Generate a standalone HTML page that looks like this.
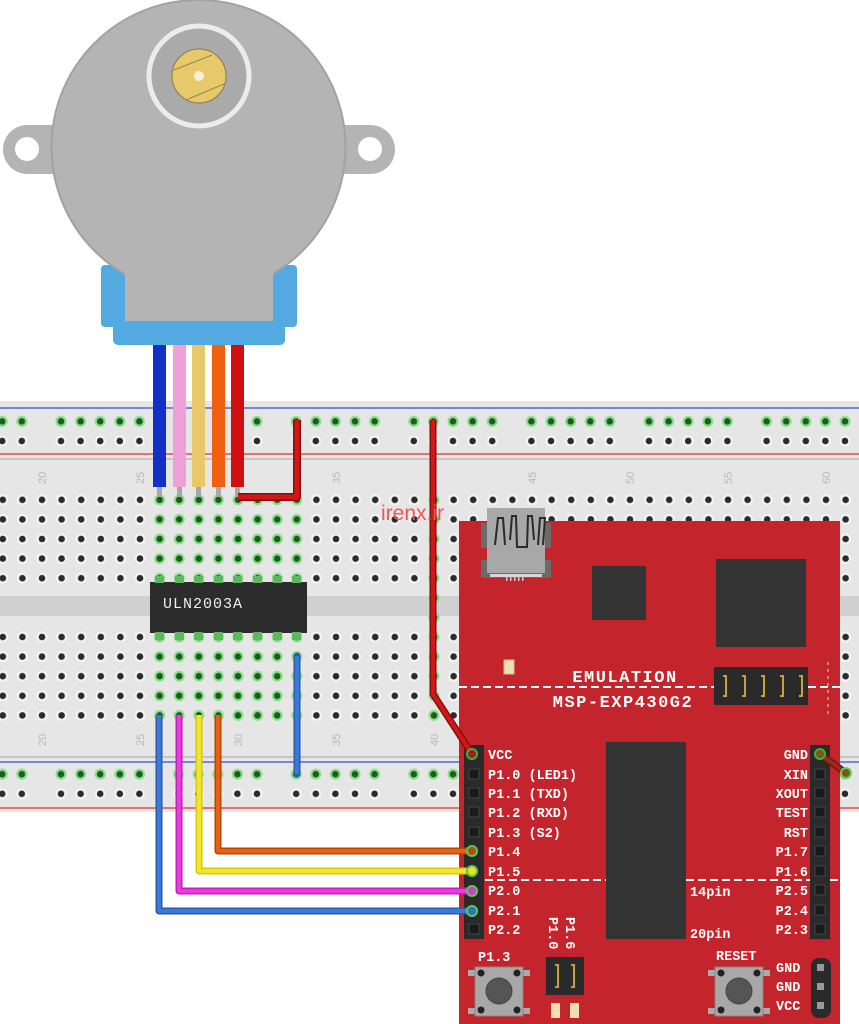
<!DOCTYPE html>
<html><head><meta charset="utf-8"><style>
html,body{margin:0;padding:0;background:#fff;}
svg{display:block;}
.t{font-family:"Liberation Mono",monospace;font-weight:bold;fill:#fff;font-size:13.5px;}
.n{font-family:"Liberation Sans",sans-serif;fill:#b8b8b8;font-size:11px;}
</style></head><body>
<svg width="859" height="1024" viewBox="0 0 859 1024" xmlns="http://www.w3.org/2000/svg">
<defs>
<pattern id="hb" patternUnits="userSpaceOnUse" x="130.2" y="0" width="19.6" height="19.6">
<circle cx="9.8" cy="9.8" r="5.5" fill="#f4f4f4"/><circle cx="9.8" cy="9.8" r="3.3" fill="#2b2b2b"/></pattern>
<pattern id="ra" patternUnits="userSpaceOnUse" x="51.2" y="0" width="117.6" height="19.6">
<g fill="#f4f4f4"><circle cx="9.8" cy="9.8" r="5.5"/><circle cx="29.4" cy="9.8" r="5.5"/><circle cx="49" cy="9.8" r="5.5"/><circle cx="68.6" cy="9.8" r="5.5"/><circle cx="88.2" cy="9.8" r="5.5"/></g>
<g fill="#2b2b2b"><circle cx="9.8" cy="9.8" r="3.3"/><circle cx="29.4" cy="9.8" r="3.3"/><circle cx="49" cy="9.8" r="3.3"/><circle cx="68.6" cy="9.8" r="3.3"/><circle cx="88.2" cy="9.8" r="3.3"/></g></pattern>
<pattern id="rg" patternUnits="userSpaceOnUse" x="51.2" y="0" width="117.6" height="19.6">
<g fill="#86e086"><circle cx="9.8" cy="9.8" r="5.5"/><circle cx="29.4" cy="9.8" r="5.5"/><circle cx="49" cy="9.8" r="5.5"/><circle cx="68.6" cy="9.8" r="5.5"/><circle cx="88.2" cy="9.8" r="5.5"/></g>
<g fill="#1f5a22"><circle cx="9.8" cy="9.8" r="3.3"/><circle cx="29.4" cy="9.8" r="3.3"/><circle cx="49" cy="9.8" r="3.3"/><circle cx="68.6" cy="9.8" r="3.3"/><circle cx="88.2" cy="9.8" r="3.3"/></g></pattern>
<pattern id="gg" patternUnits="userSpaceOnUse" x="130.2" y="0" width="19.6" height="19.6">
<circle cx="9.8" cy="9.8" r="5.5" fill="#86e086"/><circle cx="9.8" cy="9.8" r="3.3" fill="#1f5a22"/></pattern>
</defs>

<!-- breadboard -->
<rect x="0" y="401" width="859" height="411" fill="#e6e6e6"/>
<rect x="0" y="596" width="859" height="20" fill="#d0d0d0"/>
<line x1="0" y1="408" x2="859" y2="408" stroke="#3050d0" stroke-width="1.2"/>
<line x1="0" y1="454" x2="859" y2="454" stroke="#e03030" stroke-width="1.2"/>
<line x1="0" y1="459" x2="859" y2="459" stroke="#c4c4c4" stroke-width="2"/>
<line x1="0" y1="757" x2="859" y2="757" stroke="#c4c4c4" stroke-width="2"/>
<line x1="0" y1="762" x2="859" y2="762" stroke="#3050d0" stroke-width="1.2"/>
<line x1="0" y1="808" x2="859" y2="808" stroke="#e03030" stroke-width="1.2"/>
<rect x="0" y="410.2" width="859" height="19.6" fill="url(#rg)"/>
<rect x="0" y="429.8" width="859" height="19.6" fill="url(#ra)"/>
<rect x="0" y="764.2" width="859" height="19.6" fill="url(#rg)"/>
<rect x="0" y="783.8" width="859" height="19.6" fill="url(#ra)"/>
<rect x="0" y="489.2" width="859" height="98" fill="url(#hb)"/>
<rect x="0" y="626.2" width="859" height="98" fill="url(#hb)"/>
<rect x="149.8" y="489.2" width="156.8" height="98" fill="url(#gg)"/>
<rect x="149.8" y="626.2" width="156.8" height="98" fill="url(#gg)"/>
<rect x="423.8" y="489.2" width="19.6" height="235" fill="url(#gg)"/>
<g class="n">
<text transform="translate(46,484) rotate(-90)">20</text>
<text transform="translate(144,484) rotate(-90)">25</text>
<text transform="translate(340,484) rotate(-90)">35</text>
<text transform="translate(536,484) rotate(-90)">45</text>
<text transform="translate(634,484) rotate(-90)">50</text>
<text transform="translate(732,484) rotate(-90)">55</text>
<text transform="translate(830,484) rotate(-90)">60</text>
<text transform="translate(46,746) rotate(-90)">20</text>
<text transform="translate(144,746) rotate(-90)">25</text>
<text transform="translate(242,746) rotate(-90)">30</text>
<text transform="translate(340,746) rotate(-90)">35</text>
<text transform="translate(438,746) rotate(-90)">40</text>
</g>

<!-- ULN2003A -->
<rect x="150" y="582" width="157" height="51" fill="#2c2c2c"/>
<g fill="#5fb85f">
<rect x="155" y="576" width="9" height="7"/><rect x="175" y="576" width="9" height="7"/><rect x="194" y="576" width="9" height="7"/><rect x="214" y="576" width="9" height="7"/><rect x="233" y="576" width="9" height="7"/><rect x="253" y="576" width="9" height="7"/><rect x="273" y="576" width="9" height="7"/><rect x="292" y="576" width="9" height="7"/>
<rect x="155" y="632" width="9" height="8"/><rect x="175" y="632" width="9" height="8"/><rect x="194" y="632" width="9" height="8"/><rect x="214" y="632" width="9" height="8"/><rect x="233" y="632" width="9" height="8"/><rect x="253" y="632" width="9" height="8"/><rect x="273" y="632" width="9" height="8"/><rect x="292" y="632" width="9" height="8"/>
</g>
<text x="163" y="608" style="font-family:'Liberation Mono',monospace;font-size:15px;fill:#eee;letter-spacing:1px">ULN2003A</text>

<!-- motor -->
<rect x="101" y="265" width="196" height="62" rx="4" fill="#52aae0"/>
<rect x="113" y="272" width="172" height="73" rx="5" fill="#52aae0"/>
<rect x="3" y="125" width="392" height="49" rx="24.5" fill="#b4b4b4"/>
<circle cx="27" cy="149" r="12" fill="#fff"/><circle cx="370" cy="149" r="12" fill="#fff"/>
<circle cx="198.5" cy="147" r="147" fill="#b4b4b4" stroke="#a2a2a2" stroke-width="2"/>
<rect x="125" y="255" width="148" height="66" fill="#b4b4b4"/>
<circle cx="199" cy="76" r="50" fill="#aaaaaa" stroke="#ececec" stroke-width="5"/>
<circle cx="199" cy="76" r="27" fill="#e7c96a" stroke="#8a7a50" stroke-width="1"/>
<line x1="174" y1="70" x2="212" y2="55" stroke="#9a8550" stroke-width="1"/>
<line x1="186" y1="100" x2="224" y2="84" stroke="#9a8550" stroke-width="1"/>
<circle cx="199" cy="76" r="5" fill="#f6f0d8"/>
<rect x="153" y="345" width="13" height="142" fill="#1030c8"/>
<rect x="173" y="345" width="13" height="142" fill="#f0a0d8"/>
<rect x="192" y="345" width="13" height="142" fill="#e8c868"/>
<rect x="212" y="345" width="13" height="142" fill="#f06010"/>
<rect x="231" y="345" width="13" height="142" fill="#d01010"/>
<g fill="#a8a8a8"><rect x="157" y="487" width="5" height="10"/><rect x="177" y="487" width="5" height="10"/><rect x="196" y="487" width="5" height="10"/><rect x="216" y="487" width="5" height="10"/><rect x="235" y="487" width="5" height="10"/></g>

<polyline points="238,497 297,497 297,420" fill="none" stroke="#8a0c0c" stroke-width="8" stroke-linejoin="round"/>
<polyline points="238,497 297,497 297,420" fill="none" stroke="#d01818" stroke-width="5" stroke-linejoin="round"/>
<line x1="297" y1="656" x2="297" y2="774" stroke="#2a5aa8" stroke-width="7" stroke-linecap="round"/>
<line x1="297" y1="656" x2="297" y2="774" stroke="#3a7ad8" stroke-width="4"/>

<!-- MSP board -->
<rect x="459" y="521" width="381" height="503" fill="#c4242b"/>
<rect x="481" y="523" width="70" height="25" fill="#6a6a6a"/>
<rect x="481" y="560" width="70" height="18" fill="#6a6a6a"/>
<rect x="487" y="508" width="58" height="65" fill="#a8a8a8"/>
<path d="M495 545 L498 518 L503 518 L505 545 M510 540 L512 516 L516 516 L517 547 L527 547 L528 516 L532 516 L534 540 M538 545 L540 518 L545 518 L543 545" fill="none" stroke="#2a2a2a" stroke-width="2"/>
<rect x="490" y="574" width="52" height="3" fill="#d8d8d8"/>
<g fill="#ccc"><rect x="506" y="576" width="1.5" height="5"/><rect x="510" y="576" width="1.5" height="5"/><rect x="514" y="576" width="1.5" height="5"/><rect x="518" y="576" width="1.5" height="5"/><rect x="522" y="576" width="1.5" height="5"/></g>
<rect x="592" y="566" width="54" height="54" fill="#333"/>
<rect x="716" y="559" width="90" height="88" fill="#333"/>
<rect x="504" y="660" width="10" height="14" fill="#f0e0b0" stroke="#d0c090" stroke-width="1"/>
<text x="625" y="682" text-anchor="middle" class="t" style="font-size:17px;letter-spacing:1.5px">EMULATION</text>
<line x1="459" y1="687" x2="716" y2="687" stroke="#fff" stroke-width="2" stroke-dasharray="8,4"/>
<line x1="808" y1="687" x2="840" y2="687" stroke="#fff" stroke-width="2" stroke-dasharray="8,4"/>
<text x="623" y="707" text-anchor="middle" class="t" style="font-size:17px;letter-spacing:1.5px">MSP-EXP430G2</text>
<rect x="714" y="667" width="94" height="38" fill="#2a2a2a"/>
<g fill="none" stroke="#c8a040" stroke-width="2">
<path d="M723 676 h3 v20 h-3"/><path d="M742 676 h3 v20 h-3"/><path d="M761 676 h3 v20 h-3"/><path d="M780 676 h3 v20 h-3"/><path d="M799 676 h3 v20 h-3"/>
</g>
<line x1="828" y1="662" x2="828" y2="714" stroke="#d08080" stroke-width="2" stroke-dasharray="3,4"/>
<rect x="606" y="742" width="80" height="197" fill="#333"/>
<line x1="485" y1="880" x2="606" y2="880" stroke="#fff" stroke-width="2" stroke-dasharray="8,4"/>
<line x1="686" y1="880" x2="840" y2="880" stroke="#fff" stroke-width="2" stroke-dasharray="8,4"/>
<text x="690" y="896" class="t">14pin</text>
<text x="690" y="938" class="t">20pin</text>
<rect x="464" y="745" width="20" height="194" fill="#2a2a2a"/>
<rect x="810" y="745" width="20" height="194" fill="#2a2a2a"/>
<g fill="#1a1a1a" stroke="#444" stroke-width="1">
<rect x="469" y="769" width="10" height="10"/><rect x="469" y="788" width="10" height="10"/><rect x="469" y="807" width="10" height="10"/><rect x="469" y="827" width="10" height="10"/><rect x="469" y="924" width="10" height="10"/>
<rect x="815" y="769" width="10" height="10"/><rect x="815" y="788" width="10" height="10"/><rect x="815" y="807" width="10" height="10"/><rect x="815" y="827" width="10" height="10"/><rect x="815" y="846" width="10" height="10"/><rect x="815" y="866" width="10" height="10"/><rect x="815" y="885" width="10" height="10"/><rect x="815" y="905" width="10" height="10"/><rect x="815" y="924" width="10" height="10"/>
</g>
<g class="t">
<text x="488" y="759">VCC</text>
<text x="488" y="779">P1.0 (LED1)</text>
<text x="488" y="798">P1.1 (TXD)</text>
<text x="488" y="817">P1.2 (RXD)</text>
<text x="488" y="837">P1.3 (S2)</text>
<text x="488" y="856">P1.4</text>
<text x="488" y="876">P1.5</text>
<text x="488" y="895">P2.0</text>
<text x="488" y="915">P2.1</text>
<text x="488" y="934">P2.2</text>
</g>
<g class="t" text-anchor="end">
<text x="808" y="759">GND</text>
<text x="808" y="779">XIN</text>
<text x="808" y="798">XOUT</text>
<text x="808" y="817">TEST</text>
<text x="808" y="837">RST</text>
<text x="808" y="856">P1.7</text>
<text x="808" y="876">P1.6</text>
<text x="808" y="895">P2.5</text>
<text x="808" y="915">P2.4</text>
<text x="808" y="934">P2.3</text>
</g>
<text x="478" y="961" class="t">P1.3</text>
<text x="716" y="960" class="t">RESET</text>
<text transform="translate(566,917) rotate(90)" class="t">P1.6</text>
<text transform="translate(549,917) rotate(90)" class="t">P1.0</text>
<rect x="546" y="957" width="38" height="38" fill="#2a2a2a"/>
<path d="M555 965 h3 v22 h-3 M571 965 h3 v22 h-3" fill="none" stroke="#c8a040" stroke-width="2"/>
<rect x="551" y="1003" width="9" height="15" fill="#f0e0b0"/>
<rect x="570" y="1003" width="9" height="15" fill="#f0e0b0"/>
<g>
<rect x="468" y="970" width="62" height="6" fill="#aaa"/><rect x="468" y="1008" width="62" height="6" fill="#aaa"/>
<rect x="475" y="967" width="48" height="49" fill="#a8a8a8" stroke="#888"/>
<circle cx="499" cy="991" r="13" fill="#555" stroke="#444"/>
<circle cx="481" cy="973" r="3.5" fill="#222"/><circle cx="517" cy="973" r="3.5" fill="#222"/><circle cx="481" cy="1010" r="3.5" fill="#222"/><circle cx="517" cy="1010" r="3.5" fill="#222"/>
</g>
<g transform="translate(240,0)">
<rect x="468" y="970" width="62" height="6" fill="#aaa"/><rect x="468" y="1008" width="62" height="6" fill="#aaa"/>
<rect x="475" y="967" width="48" height="49" fill="#a8a8a8" stroke="#888"/>
<circle cx="499" cy="991" r="13" fill="#555" stroke="#444"/>
<circle cx="481" cy="973" r="3.5" fill="#222"/><circle cx="517" cy="973" r="3.5" fill="#222"/><circle cx="481" cy="1010" r="3.5" fill="#222"/><circle cx="517" cy="1010" r="3.5" fill="#222"/>
</g>
<g class="t"><text x="776" y="972">GND</text><text x="776" y="991">GND</text><text x="776" y="1010">VCC</text></g>
<rect x="811" y="958" width="20" height="60" rx="8" fill="#2a2a2a"/>
<g fill="#999"><rect x="817" y="964" width="7" height="7"/><rect x="817" y="983" width="7" height="7"/><rect x="817" y="1002" width="7" height="7"/></g>

<polyline points="433,420 433,694 472,754" fill="none" stroke="#8a0c0c" stroke-width="7" stroke-linejoin="round"/>
<polyline points="433,420 433,694 472,754" fill="none" stroke="#d01818" stroke-width="4" stroke-linejoin="round"/>
<circle cx="472" cy="754" r="5" fill="#a02020" stroke="#4a4" stroke-width="2"/>
<line x1="820" y1="754" x2="846" y2="773" stroke="#6a1a10" stroke-width="7" stroke-linecap="round"/>
<line x1="820" y1="754" x2="846" y2="773" stroke="#a02818" stroke-width="4"/>
<circle cx="820" cy="754" r="5" fill="#7a5a10" stroke="#4a4" stroke-width="2"/>
<circle cx="846" cy="773" r="5" fill="#7a5a10" stroke="#6c6" stroke-width="2"/>

<polyline points="218,715 218,851 472,851" fill="none" stroke="#b04808" stroke-width="7" stroke-linejoin="round"/>
<polyline points="218,715 218,851 472,851" fill="none" stroke="#e86010" stroke-width="4" stroke-linejoin="round"/>
<polyline points="199,715 199,871 472,871" fill="none" stroke="#d8c810" stroke-width="7" stroke-linejoin="round"/>
<polyline points="199,715 199,871 472,871" fill="none" stroke="#f2e628" stroke-width="4" stroke-linejoin="round"/>
<polyline points="179,715 179,891 472,891" fill="none" stroke="#c020b8" stroke-width="7" stroke-linejoin="round"/>
<polyline points="179,715 179,891 472,891" fill="none" stroke="#ee38e0" stroke-width="4" stroke-linejoin="round"/>
<polyline points="159,715 159,911 472,911" fill="none" stroke="#2a5aa8" stroke-width="7" stroke-linejoin="round"/>
<polyline points="159,715 159,911 472,911" fill="none" stroke="#3a7ad8" stroke-width="4" stroke-linejoin="round"/>
<g stroke="#5c5" stroke-width="2">
<circle cx="472" cy="851" r="5" fill="#b05010"/><circle cx="472" cy="871" r="5" fill="#f0e020"/><circle cx="472" cy="891" r="5" fill="#d040c0"/><circle cx="472" cy="911" r="5" fill="#3070c0"/>
</g>

<text x="381" y="520" style="font-family:'Liberation Sans',sans-serif;font-size:21px;fill:#f05555">irenx.ir</text>
</svg>
</body></html>
